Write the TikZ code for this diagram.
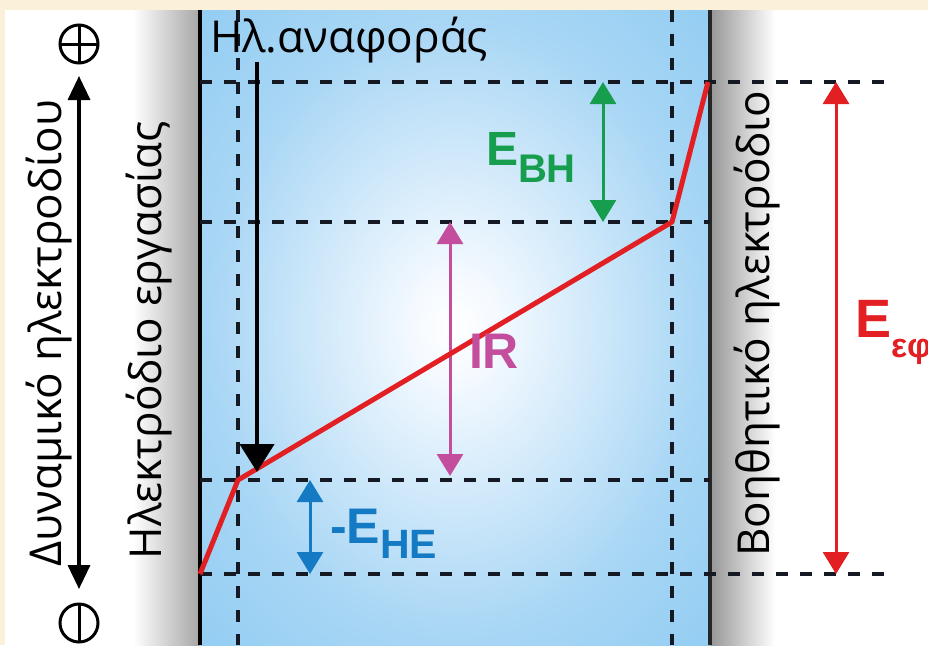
\documentclass[tikz,border=0pt]{standalone}
\usepackage{fontspec}
\setmainfont{Open Sans}
\newfontfamily\lblfont{Liberation Sans}
\usetikzlibrary{arrows.meta}
\definecolor{cream}{RGB}{251,241,218}
\definecolor{dashc}{RGB}{20,25,35}
\definecolor{redl}{RGB}{226,32,36}
\definecolor{greenl}{RGB}{22,158,78}
\definecolor{magl}{RGB}{196,78,158}
\definecolor{bluel}{RGB}{20,122,196}
\definecolor{elecg}{RGB}{150,150,150}
\pgfdeclareradialshading{glow}{\pgfpoint{0bp}{0bp}}{rgb(0bp)=(1,1,1); rgb(4bp)=(0.96,0.98,1); rgb(24bp)=(0.66,0.84,0.96); rgb(50bp)=(0.47,0.76,0.94); rgb(80bp)=(0.45,0.75,0.94)}
\begin{document}
\begin{tikzpicture}[x=1pt,y=-1pt,
  dsh/.style={draw=dashc,line width=3.2pt,dash pattern=on 12pt off 12pt},
  txt/.style={font=\fontsize{44}{52}\selectfont,inner sep=0pt,outer sep=0pt},
  lbl/.style={font=\lblfont\bfseries,inner sep=0pt,outer sep=0pt},
  dbl/.style={line width=3pt,{Triangle[length=22pt,width=26pt]}-{Triangle[length=22pt,width=26pt]}},
  sgn/.style={circle,draw,line width=3pt,minimum size=38pt,inner sep=0pt,outer sep=0pt}]
\useasboundingbox (0,0) rectangle (928,645);
% background
\fill[cream] (0,0) rectangle (928,645);
\fill[white] (5,10) rectangle (928,645);
% electrodes
\shade[left color=white,right color=elecg!85] (133,10) rectangle (200,645);
\shade[left color=elecg,right color=white] (710,10) rectangle (775,645);
\shade[shading=glow] (200,10) rectangle (710,645);
% coordinates
\coordinate (wtop) at (200,10); \coordinate (wbot) at (200,645);
\coordinate (ctop) at (710,10); \coordinate (cbot) at (710,645);
\coordinate (v1t) at (238,10); \coordinate (v1b) at (238,645);
\coordinate (v2t) at (672,10); \coordinate (v2b) at (672,645);
\coordinate (h1a) at (200,82);  \coordinate (h1b) at (890,82);
\coordinate (h2a) at (200,222); \coordinate (h2b) at (710,222);
\coordinate (h3a) at (200,480); \coordinate (h3b) at (710,480);
\coordinate (h4a) at (200,574); \coordinate (h4b) at (890,574);
\coordinate (pA) at (200,574); \coordinate (pB) at (238,480);
\coordinate (pC) at (672,222); \coordinate (pD) at (708,82);
% electrode lines
\draw[line width=4pt,black] (wtop) -- (wbot);
\draw[line width=4pt,black!85] (ctop) -- (cbot);
% dashed grid
\draw[dsh] (v1t) -- (v1b);
\draw[dsh] (v2t) -- (v2b);
\draw[dsh] (h1a) -- (h1b);
\draw[dsh] (h2a) -- (h2b);
\draw[dsh] (h3a) -- (h3b);
\draw[dsh] (h4a) -- (h4b);
% arrows
\coordinate (gT) at (603,82);  \coordinate (gB) at (603,222);
\coordinate (mT) at (450,222); \coordinate (mB) at (450,476);
\coordinate (bT) at (310,480); \coordinate (bB) at (310,574);
\coordinate (rT) at (836,82);  \coordinate (rB) at (836,574);
\draw[dbl,magl] (mT) -- (mB);
\draw[dbl,greenl] (gT) -- (gB);
\draw[dbl,bluel] (bT) -- (bB);
\draw[dbl,redl] (rT) -- (rB);
% red potential profile
\draw[redl,line width=5pt,line join=round] (pA) -- (pB) -- (pC) -- (pD);
% reference electrode arrow
\node[txt,anchor=base west] (refl) at (210,52) {Ηλ.αναφοράς};
\coordinate (kT) at (257,62); \coordinate (kB) at (257,472);
\draw[line width=4.5pt,-{Triangle[length=28pt,width=34pt]}] (kT) -- (kB);
% labels
\node[lbl,greenl,anchor=base west] (ebh) at (486,165)
  {{\fontsize{48}{48}\selectfont E}\raisebox{-17pt}{\fontsize{40}{40}\selectfont BH}};
\node[lbl,magl,anchor=base west] (ir) at (469,368) {\fontsize{50}{50}\selectfont IR};
\node[lbl,bluel,anchor=base west] (ehe) at (330,543)
  {{\fontsize{50}{50}\selectfont -E}\raisebox{-15pt}{\fontsize{41}{41}\selectfont HE}};
\node[lbl,redl,anchor=base west] (eef) at (855,337)
  {{\fontsize{54}{54}\selectfont E}\raisebox{-20pt}{\fontsize{34}{34}\selectfont εφ}};
% rotated texts
\node[txt,rotate=90,anchor=base] (pot) at (61,333) {Δυναμικό ηλεκτροδίου};
\node[txt,rotate=90,anchor=base] (we) at (161,340) {Ηλεκτρόδιο εργασίας};
\node[txt,rotate=90,anchor=base] (ce) at (769,324) {Βοηθητικό ηλεκτρόδιο};
% potential axis
\node[sgn] (plus) at (79,44) {};
\draw[line width=3pt] (plus.north) -- (plus.south);
\draw[line width=3pt] (plus.west) -- (plus.east);
\node[sgn] (minus) at (79,623) {};
\draw[line width=3pt] (minus.north) -- (minus.south);
\coordinate (aT) at (79,76); \coordinate (aB) at (79,589);
\draw[line width=3.5pt,{Triangle[length=24pt,width=22pt]}-{Triangle[length=24pt,width=22pt]}] (aT) -- (aB);
\end{tikzpicture}
\end{document}
